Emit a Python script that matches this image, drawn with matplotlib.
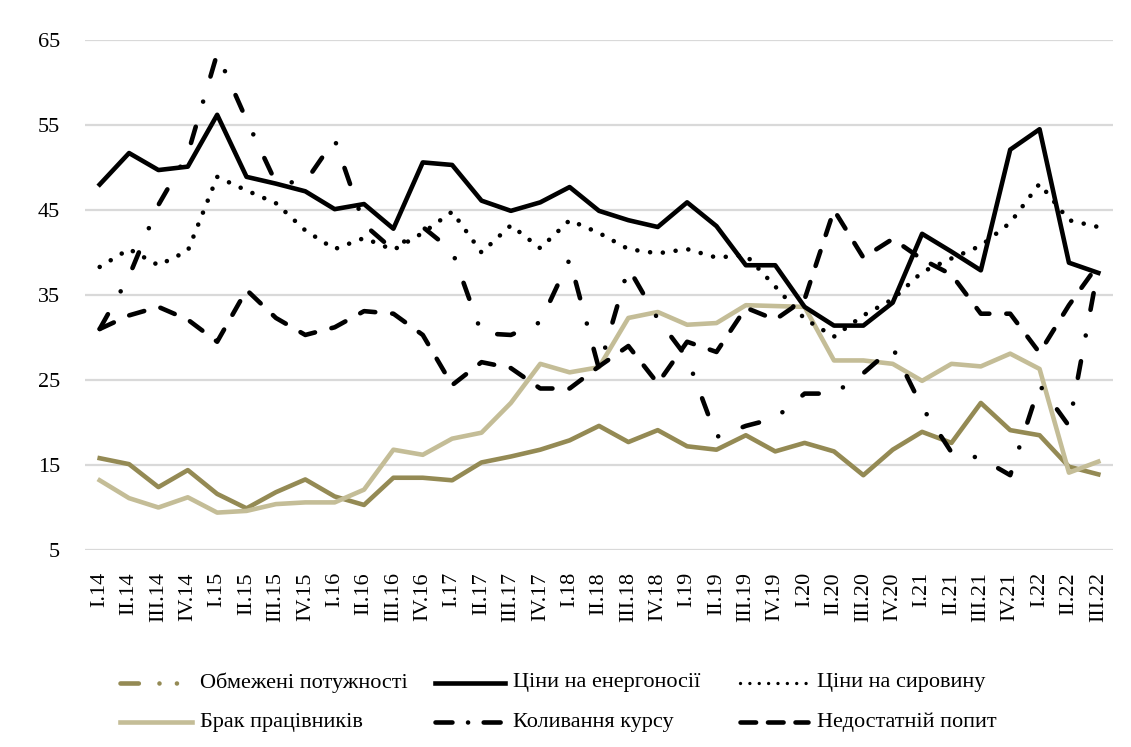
import matplotlib
matplotlib.use('Agg')
import matplotlib.pyplot as plt
from matplotlib.lines import Line2D
import numpy as np

# ---------------- data ----------------
quarters = ['I.14', 'II.14', 'III.14', 'IV.14',
            'I.15', 'II.15', 'III.15', 'IV.15',
            'I.16', 'II.16', 'III.16', 'IV.16',
            'I.17', 'II.17', 'III.17', 'IV.17',
            'I.18', 'II.18', 'III.18', 'IV.18',
            'I.19', 'II.19', 'III.19', 'IV.19',
            'I.20', 'II.20', 'III.20', 'IV.20',
            'I.21', 'II.21', 'III.21', 'IV.21',
            'I.22', 'II.22', 'III.22']

capacity = [15.8, 15.1, 12.4, 14.4, 11.6, 9.9, 11.8, 13.3, 11.3, 10.3,
            13.5, 13.5, 13.2, 15.3, 16.0, 16.8, 17.9, 19.6, 17.7, 19.1,
            17.2, 16.8, 18.5, 16.6, 17.6, 16.6, 13.8, 16.8, 18.9, 17.6,
            22.3, 19.1, 18.5, 14.8, 13.9]

energy = [48.0, 51.7, 49.7, 50.1, 56.2, 48.9, 48.1, 47.2, 45.1, 45.7,
          42.8, 50.6, 50.3, 46.1, 44.9, 45.9, 47.7, 44.9, 43.8, 43.0,
          45.9, 43.1, 38.5, 38.5, 33.6, 31.4, 31.4, 34.1, 42.2, 40.1,
          37.9, 52.1, 54.5, 38.8, 37.6]

raw_materials = [38.3, 40.4, 38.5, 40.2, 48.9, 47.3, 45.8, 42.6, 40.4, 41.7,
                 40.3, 42.3, 44.8, 40.0, 43.2, 40.5, 43.8, 42.3, 40.4, 39.9,
                 40.4, 39.4, 39.7, 36.0, 32.2, 30.1, 32.6, 34.5, 37.7, 39.3,
                 40.8, 43.5, 48.1, 43.8, 43.0]

labour = [13.2, 11.1, 10.0, 11.2, 9.4, 9.6, 10.4, 10.6, 10.6, 12.1,
          16.8, 16.2, 18.1, 18.8, 22.3, 26.9, 25.9, 26.5, 32.3, 33.0,
          31.5, 31.7, 33.8, 33.7, 33.6, 27.3, 27.3, 26.9, 24.9, 26.9,
          26.6, 28.1, 26.3, 14.1, 15.4]

exchange = [31.0, 37.2, 45.6, 51.6, 63.4, 55.6, 48.2, 48.3, 53.3, 43.3,
            40.3, 43.0, 40.2, 30.5, 30.3, 31.8, 39.2, 26.3, 38.2, 32.2,
            27.6, 18.3, 19.6, 20.5, 23.4, 23.4, 25.8, 28.8, 21.8, 16.5,
            15.8, 13.8, 24.4, 19.6, 38.2]

demand = [31.0, 32.6, 33.6, 32.1, 29.5, 35.6, 32.3, 30.3, 31.2, 33.1,
          32.8, 30.3, 24.4, 27.1, 26.4, 24.0, 24.0, 26.6, 29.0, 24.6,
          29.5, 28.3, 33.5, 32.1, 34.5, 45.0, 39.4, 41.6, 39.2, 37.4,
          32.8, 32.8, 28.2, 33.8, 38.6]

labels = ['Обмежені потужності', 'Ціни на енергоносії', 'Ціни на сировину',
          'Брак працівників', 'Коливання курсу', 'Недостатній попит']

y_ticks = [5, 15, 25, 35, 45, 55, 65]

# ---------------- style ----------------
FONT = 'Liberation Serif'
plt.rcParams['font.family'] = [FONT, 'DejaVu Serif']
OLIVE = '#948A54'
TAN = '#C4BD97'
LW = 3.3
DOT = (0, (0.01, 2.8))
DASH = (0, (3.4, 3.7))
DASHDOT = (0, (3.7, 5.7, 0.01, 5.7))
CAPDOT = (0, (4, 4.5, 0.01, 3.8, 0.01, 30))

W, H = 1131, 747
fig = plt.figure(figsize=(W / 100, H / 100), dpi=100)
ax = fig.add_axes([85 / W, 1 - 550 / H, (1113 - 85) / W, (550 - 40) / H])

x = np.arange(len(quarters))
series = [
    (capacity, dict(color=OLIVE, lw=LW, linestyle='-')),
    (labour, dict(color=TAN, lw=LW, linestyle='-')),
    (energy, dict(color='black', lw=LW, linestyle='-')),
    (raw_materials, dict(color='black', lw=LW, linestyle=DOT, dash_capstyle='round')),
    (exchange, dict(color='black', lw=LW, linestyle=DASHDOT, dash_capstyle='round')),
    (demand, dict(color='black', lw=LW, linestyle=DASH, dash_capstyle='round')),
]
for vals, kw in series:
    ax.plot(x, vals, **kw)

ax.set_xlim(-0.5, len(quarters) - 0.5)
ax.set_ylim(5, 65)
ax.set_yticks(y_ticks)
ax.set_yticklabels([str(v) for v in y_ticks], fontsize=16)
ax.set_xticks(x)
ax.set_xticklabels(quarters, rotation=90, fontsize=16)
ax.tick_params(axis='y', length=0, pad=18)
ax.tick_params(axis='x', length=0, pad=16)
ax.grid(axis='y', color='#d9d9d9', lw=1.6)
ax.set_axisbelow(True)
for s in ax.spines.values():
    s.set_visible(False)

# ---------------- legend (pixel overlay) ----------------
ov = fig.add_axes([0, 0, 1, 1])
ov.set_xlim(0, W)
ov.set_ylim(H, 0)
ov.axis('off')

rows = [683, 722]
handle_x = [(120, 192), (435, 505), (740, 808)]
text_x = [200, 513, 817]
entries = [
    (0, 0, labels[0], dict(color=OLIVE, lw=LW, linestyle=CAPDOT, dash_capstyle='round')),
    (0, 1, labels[1], dict(color='black', lw=LW, linestyle='-')),
    (0, 2, labels[2], dict(color='black', lw=2.4, linestyle=(0, (0.01, 2.8)), dash_capstyle='round')),
    (1, 0, labels[3], dict(color=TAN, lw=LW, linestyle='-')),
    (1, 1, labels[4], dict(color='black', lw=LW, linestyle=(0, (3.7, 3.4, 0.01, 3.4, 3.7, 10)), dash_capstyle='round')),
    (1, 2, labels[5], dict(color='black', lw=LW, linestyle=(0, (3.4, 2.6)), dash_capstyle='round')),
]
for r, c, lab, kw in entries:
    x0, x1 = handle_x[c]
    ov.add_line(Line2D([x0, x1], [rows[r], rows[r]], **kw))
    ov.text(text_x[c], rows[r], lab, fontsize=16, va='center', ha='left')

fig.savefig('out.png', dpi=100)
